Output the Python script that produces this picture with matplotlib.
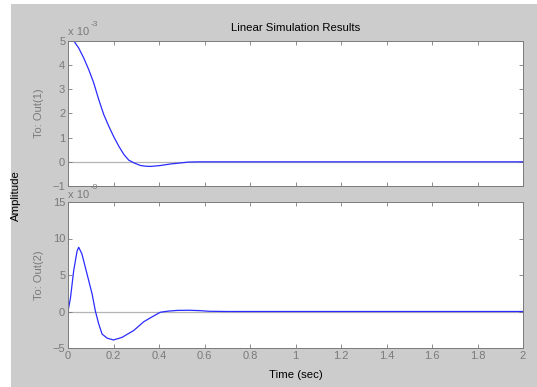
import matplotlib.pyplot as plt
from matplotlib.patches import Rectangle
from matplotlib.ticker import MultipleLocator

plt.rcParams['font.family'] = ['Liberation Sans', 'DejaVu Sans']

# response of output 1 (units of 1e-3)
t1 = [0, 0.026, 0.047, 0.069, 0.091, 0.113, 0.135, 0.157, 0.179, 0.20, 0.223, 0.246,
      0.267, 0.289, 0.318, 0.34, 0.364, 0.408, 0.45, 0.49, 0.53, 0.58, 2.0]
y1 = [5.0, 5.0, 4.71, 4.3, 3.82, 3.27, 2.58, 1.96, 1.48, 1.06, 0.65, 0.3,
      0.07, -0.04, -0.15, -0.18, -0.19, -0.15, -0.09, -0.05, -0.01, 0.0, 0.0]

# response of output 2 (units of 1e-9)
t2 = [0, 0.011, 0.025, 0.04, 0.047, 0.061, 0.084, 0.106, 0.12, 0.135, 0.15, 0.172,
      0.20, 0.237, 0.289, 0.333, 0.377, 0.406, 0.44, 0.48, 0.53, 0.58, 0.62, 0.70, 2.0]
y2 = [0, 1.9, 5.6, 8.3, 8.8, 7.9, 5.1, 2.4, 0.1, -1.7, -3.1, -3.65,
      -3.9, -3.55, -2.6, -1.4, -0.6, -0.1, 0.05, 0.15, 0.17, 0.12, 0.03, 0.0, 0.0]

xticks = [0, 0.2, 0.4, 0.6, 0.8, 1, 1.2, 1.4, 1.6, 1.8, 2]
xticklabels = ['0', '0.2', '0.4', '0.6', '0.8', '1', '1.2', '1.4', '1.6', '1.8', '2']

W, H = 537, 387
fig = plt.figure(figsize=(W / 100, H / 100), dpi=100, facecolor='white')
fig.patches.append(Rectangle((11 / W, 0), 1 - 11 / W, 1 - 4 / H, transform=fig.transFigure,
                             facecolor='#cccccc', edgecolor='none', zorder=-10))

GRAY = '#7a7a7a'
FS = 8

def px_axes(x0, y0, x1, y1):
    return fig.add_axes([x0 / W, 1 - y1 / H, (x1 - x0) / W, (y1 - y0) / H])

ax1 = px_axes(68, 41, 523, 186)
ax2 = px_axes(68, 202, 523, 348)

for ax, t, y, ylim, ystep in [(ax1, t1, y1, (-1, 5), 1), (ax2, t2, y2, (-5, 15), 5)]:
    ax.axhline(0, color='#b4b4b4', lw=0.9, zorder=1)
    ax.plot(t, y, color='#2b2bff', lw=0.9, zorder=2)
    ax.set_xlim(0, 2)
    ax.set_ylim(*ylim)
    ax.yaxis.set_major_locator(MultipleLocator(ystep))
    ax.set_xticks(xticks)
    ax.tick_params(direction='in', length=3, width=0.6, colors=GRAY, labelsize=FS,
                   top=True, right=True, pad=2)
    for s in ax.spines.values():
        s.set_color(GRAY)
        s.set_linewidth(0.7)

ax1.tick_params(labelbottom=False)
ax2.set_xticklabels(xticklabels)

ax1.set_ylabel('To: Out(1)', fontsize=FS, color=GRAY)
ax2.set_ylabel('To: Out(2)', fontsize=FS, color=GRAY)
ax1.yaxis.set_label_coords(-0.052, 0.5)
ax2.yaxis.set_label_coords(-0.052, 0.5)

ax1.set_title('Linear Simulation Results', fontsize=8.2, color='black', pad=7)
ax2.set_xlabel('Time (sec)', fontsize=8.2, color='black', labelpad=7)
fig.text(16 / W, 1 - 196 / H, 'Amplitude', rotation=90, fontsize=8.2,
         ha='center', va='center', color='black')

# multiplier labels
for ytop, exp in [(32, '-3'), (195, '-9')]:
    fig.text(68 / W, 1 - ytop / H, 'x 10', fontsize=FS, color=GRAY, ha='left', va='center')
    fig.text(91 / W, 1 - (ytop - 8) / H, exp, fontsize=FS - 2, color=GRAY,
             ha='left', va='center')

fig.savefig('out.png', dpi=100, facecolor=fig.get_facecolor())
